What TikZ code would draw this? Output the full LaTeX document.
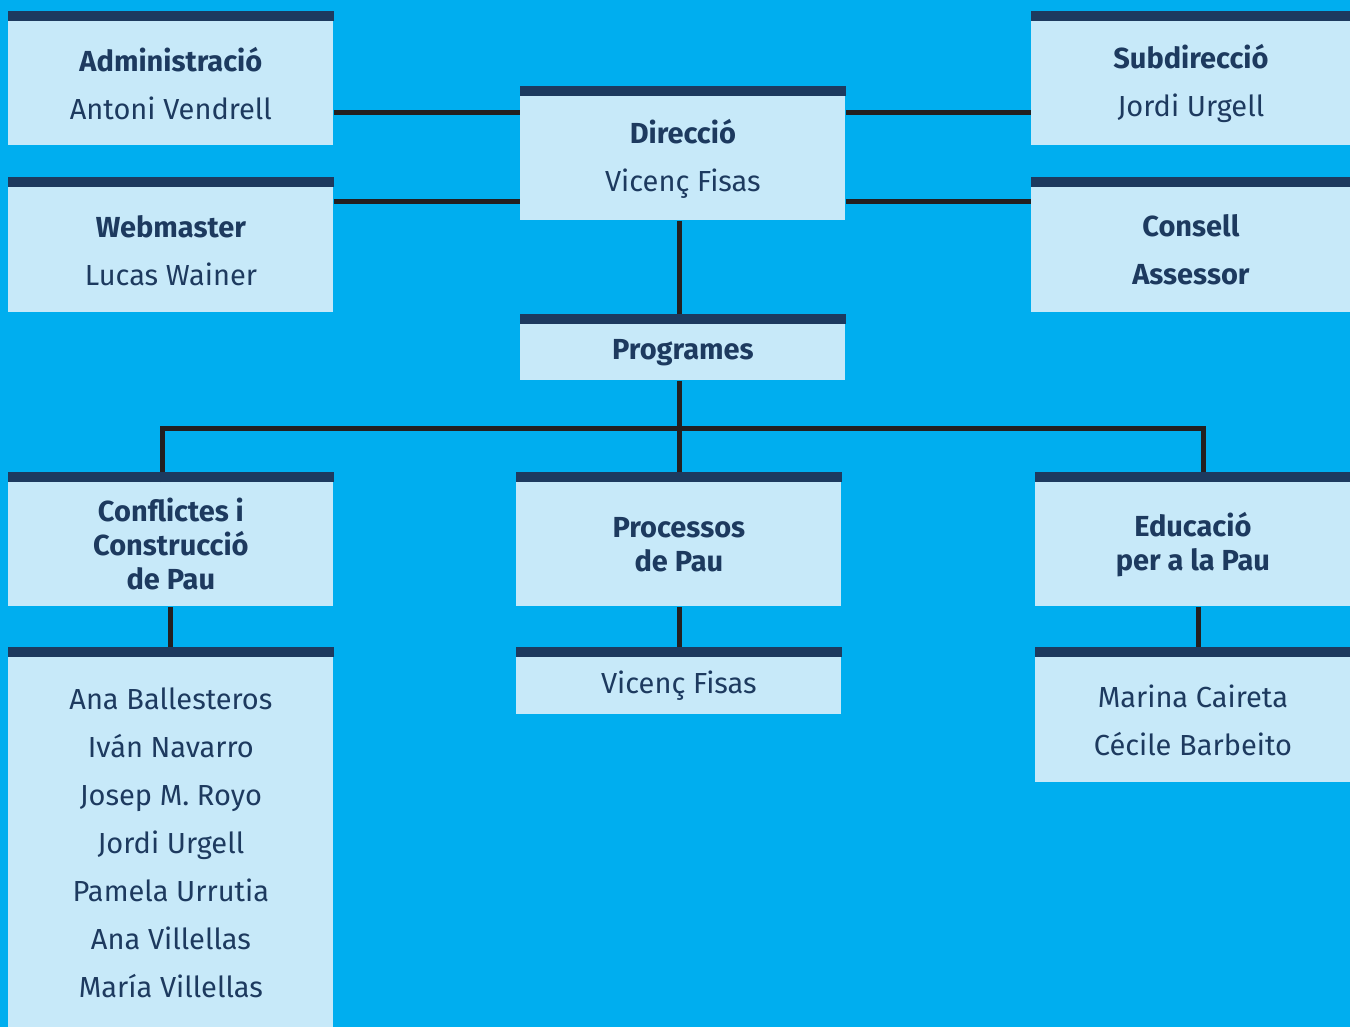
\documentclass[tikz,border=0pt]{standalone}
\usepackage{fontspec}
\setmainfont{Fira Sans}
\usepackage{xcolor}
\definecolor{ChartBlue}{HTML}{00AEEF}
\definecolor{BoxBlue}{HTML}{C7E9F9}
\definecolor{BarNavy}{HTML}{1D3A5F}
\definecolor{LinkBlack}{HTML}{231F20}

\begin{document}
\begin{tikzpicture}[x=0.5pt,y=-0.5pt,
    box/.style={fill=BoxBlue, text=BarNavy, inner sep=0pt, anchor=north west,
      minimum width=162.5pt, minimum height=62pt, align=center,
      font=\fontsize{14.5}{24}\selectfont},
    heading/.style={box, font=\fontsize{14.5}{17}\selectfont\bfseries},
    link/.style={draw=LinkBlack, line width=2.5pt}]
    \fill[ChartBlue] (0,0) rectangle (1350,1027);
    \useasboundingbox (0,0) rectangle (1350,1027);
    % top row
    \node[box] (admin) at (8,21) {\textbf{Administració}\\Antoni Vendrell};
    \node[box, minimum height=62.5pt] (web) at (8,187) {\textbf{Webmaster\vphantom{ó}}\\Lucas Wainer};
    \node[box] (dir) at (520,96) {\textbf{Direcció}\\Vicenç Fisas};
    \node[box, minimum width=159.5pt] (subdir) at (1031,21) {\textbf{Subdirecció}\\Jordi Urgell};
    \node[box, minimum width=159.5pt, minimum height=62.5pt, font=\fontsize{14.5}{24}\selectfont\bfseries] (consell) at (1031,187) {Consell\\Assessor};
    \node[heading, minimum height=28pt] (prog) at (520,324) {Programes};
    % programmes
    \node[heading] (confl) at (8,482) {Conflictes i\\Construcció\\de Pau};
    \node[heading] (proc) at (516,482) {Processos\\de Pau};
    \node[heading, minimum width=157.5pt] (educ) at (1035,482) {Educació\\per a la Pau};
    % people
    \node[box, minimum height=185pt] (confl team) at (8,657)
      {Ana Ballesteros\\Iván Navarro\\Josep M. Royo\\Jordi Urgell\\Pamela Urrutia\\Ana Villellas\\María Villellas};
    \node[box, minimum height=28.5pt] (proc team) at (516,657) {Vicenç Fisas};
    \node[box, minimum width=157.5pt, minimum height=62.5pt] (educ team) at (1035,657) {Marina Caireta\\Cécile Barbeito};
    % connectors
    \draw[link] (admin.east |- 0,113) -- (dir.west |- 0,113);
    \draw[link] (web.east |- 0,202) -- (dir.west |- 0,202);
    \draw[link] (dir.east |- 0,113) -- (subdir.west |- 0,113);
    \draw[link] (dir.east |- 0,202) -- (consell.west |- 0,202);
    \draw[link] (dir.south -| 679,0) -- (prog.north -| 679,0);
    \coordinate (split) at (679,428);
    \draw[link] (prog.south -| split) -- (proc.north -| split);
    \draw[link] (confl.north -| 162,0) |- (split) -| (educ.north -| 1203,0);
    \draw[link] (confl) -- (confl team);
    \draw[link] (proc.south -| split) -- (proc team.north -| split);
    \draw[link] (educ.south -| 1198,0) -- (educ team.north -| 1198,0);
    % top bars
    \foreach \n in {admin,web,dir,subdir,consell,prog,confl,proc,educ,confl team,proc team,educ team} {
      \fill[BarNavy] (\n.north west) rectangle ([yshift=5pt]\n.north east);
    }
\end{tikzpicture}
\end{document}
